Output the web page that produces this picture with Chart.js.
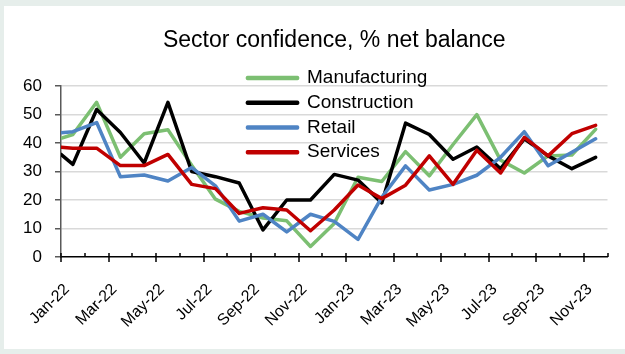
<!DOCTYPE html>
<html>
<head>
<meta charset="utf-8">
<title>Sector confidence</title>
<script src="https://cdn.jsdelivr.net/npm/chart.js@4.4.1/dist/chart.umd.min.js"></script>
<style>
  html, body { margin: 0; padding: 0; background: #e6eeeb; }
  body { width: 625px; height: 354px; position: relative; overflow: hidden; }
  .panel { position: absolute; left: 4px; top: 6px; width: 621px; height: 343px; background: #fff; }
  canvas { display: block; }
</style>
</head>
<body>
<div class="panel"><canvas id="confidence-chart" width="621" height="343"></canvas></div>
<script>
// Sector confidence - monthly % net balance by sector, Jan-22 to Nov-23

const MONTHS = ['Jan-22', 'Feb-22', 'Mar-22', 'Apr-22', 'May-22', 'Jun-22', 'Jul-22', 'Aug-22',
    'Sep-22', 'Oct-22', 'Nov-22', 'Dec-22', 'Jan-23', 'Feb-23', 'Mar-23', 'Apr-23', 'May-23',
    'Jun-23', 'Jul-23', 'Aug-23', 'Sep-23', 'Oct-23', 'Nov-23'];

const MANUFACTURING = [43, 54.3, 35, 43.3, 44.7, 32.2, 20.3, 16, 13.7, 12.7, 3.7, 11.8,
    28, 26.5, 37, 28.5, 39.5, 50, 34, 29.5, 35.5, 35.8, 44.8];
const CONSTRUCTION = [32.5, 51.8, 43.7, 33, 54.3, 30, 28.2, 26, 9.5, 20, 20, 29,
    27, 19, 47, 43, 34.3, 38.6, 31, 41.5, 35.5, 31, 35];
const RETAIL = [44, 47.2, 28.2, 28.8, 26.7, 31.4, 25, 12.6, 15, 8.8, 15, 12.5,
    6.2, 21, 32, 23.5, 25.5, 28.7, 35, 44, 32, 36.8, 41.5];
const SERVICES = [38.2, 38.2, 32.1, 32.1, 36, 25.5, 24, 15.3, 17.3, 16.5, 9.2, 16.5,
    25.3, 20.5, 25.2, 35.5, 25.5, 37.5, 29.5, 42, 35.5, 43.3, 46.2];

// Where each line comes in at the left axis (manufacturing, construction, retail, services)
const LEAD_IN = [41.7, 36, 43.6, 38.5];

const Y_TICKS = [0, 10, 20, 30, 40, 50, 60];

const SERIES = [
    { label: 'Manufacturing', values: MANUFACTURING, color: '#7cbf72' },
    { label: 'Construction', values: CONSTRUCTION, color: '#000000' },
    { label: 'Retail', values: RETAIL, color: '#4f84c4' },
    { label: 'Services', values: SERVICES, color: '#c00000' }
];

Chart.defaults.font.family = "'Liberation Sans', Arial, sans-serif";
Chart.defaults.color = '#000';

// Short tick marks on the category axis: every month boundary, longer every second one
const xTickMarks = {
    id: 'xTickMarks',
    afterDraw(chart) {
        const { ctx, scales: { x } } = chart;
        const base = x.top;
        ctx.save();
        ctx.strokeStyle = '#000';
        ctx.lineWidth = 1.5;
        for (let k = 0; k <= MONTHS.length; k++) {
            const px = Math.round(x.getPixelForValue(k - 0.5));
            ctx.beginPath();
            ctx.moveTo(px, base - 4);
            ctx.lineTo(px, k % 2 === 0 ? base + 5 : base);
            ctx.stroke();
        }
        ctx.restore();
    }
};

// Legend sits inside the plot, near the top middle
const legendPlacement = {
    id: 'legendPlacement',
    afterLayout(chart) {
        const lg = chart.legend;
        const area = chart.chartArea;
        const w = lg.width, h = lg.height;
        lg.left = area.left + 180.8;
        lg.top = area.top - 23.2;
        lg.right = lg.left + w;
        lg.bottom = lg.top + h;
    }
};

const datasets = SERIES.map((s, n) => ({
    label: s.label,
    data: [{ x: -0.5, y: LEAD_IN[n] }].concat(s.values.map((v, i) => ({ x: i, y: v }))),
    borderColor: s.color,
    backgroundColor: s.color,
    borderWidth: 3.5,
    borderJoinStyle: 'round',
    borderCapStyle: 'round',
    pointRadius: 0,
    tension: 0,
    fill: false,
    order: SERIES.length - n
}));

new Chart(document.getElementById('confidence-chart'), {
    type: 'line',
    data: { datasets },
    plugins: [xTickMarks, legendPlacement],
    options: {
        responsive: false,
        animation: false,
        devicePixelRatio: 1,
        events: [],
        layout: { padding: { left: 0, right: 17.5, top: 0, bottom: 0 } },
        plugins: {
            title: {
                display: true,
                text: 'Sector confidence, % net balance',
                fullSize: false,
                color: '#000',
                font: { size: 23, weight: 'normal' },
                padding: { top: 20.5, bottom: 32 }
            },
            legend: {
                position: 'chartArea',
                align: 'start',
                reverse: true,
                labels: {
                    boxWidth: 50,
                    boxHeight: 1,
                    padding: 5.7,
                    color: '#000',
                    font: { size: 19 }
                }
            },
            tooltip: { enabled: false }
        },
        scales: {
            x: {
                type: 'linear',
                min: -0.5,
                max: MONTHS.length - 0.5,
                afterBuildTicks: s => {
                    s.ticks = MONTHS.map((m, i) => ({ value: i })).filter(t => t.value % 2 === 0);
                },
                afterFit: s => { s.height = 92; },
                grid: { display: false },
                border: { color: '#000', width: 1.5 },
                ticks: {
                    autoSkip: false,
                    minRotation: 45,
                    maxRotation: 45,
                    padding: 15,
                    labelOffset: -6,
                    color: '#000',
                    font: { size: 16 },
                    callback: v => MONTHS[v]
                }
            },
            y: {
                min: 0,
                max: 60,
                afterBuildTicks: s => { s.ticks = Y_TICKS.map(v => ({ value: v })); },
                afterFit: s => { s.width = 57; },
                border: { color: '#595959', width: 1.5 },
                grid: {
                    color: c => (c.tick && c.tick.value === 0) ? 'rgba(0,0,0,0)' : '#d9d9d9',
                    lineWidth: 1.5,
                    tickLength: 6,
                    tickColor: '#595959'
                },
                ticks: { padding: 13, color: '#000', font: { size: 17 } }
            }
        }
    }
});
</script>
</body>
</html>
